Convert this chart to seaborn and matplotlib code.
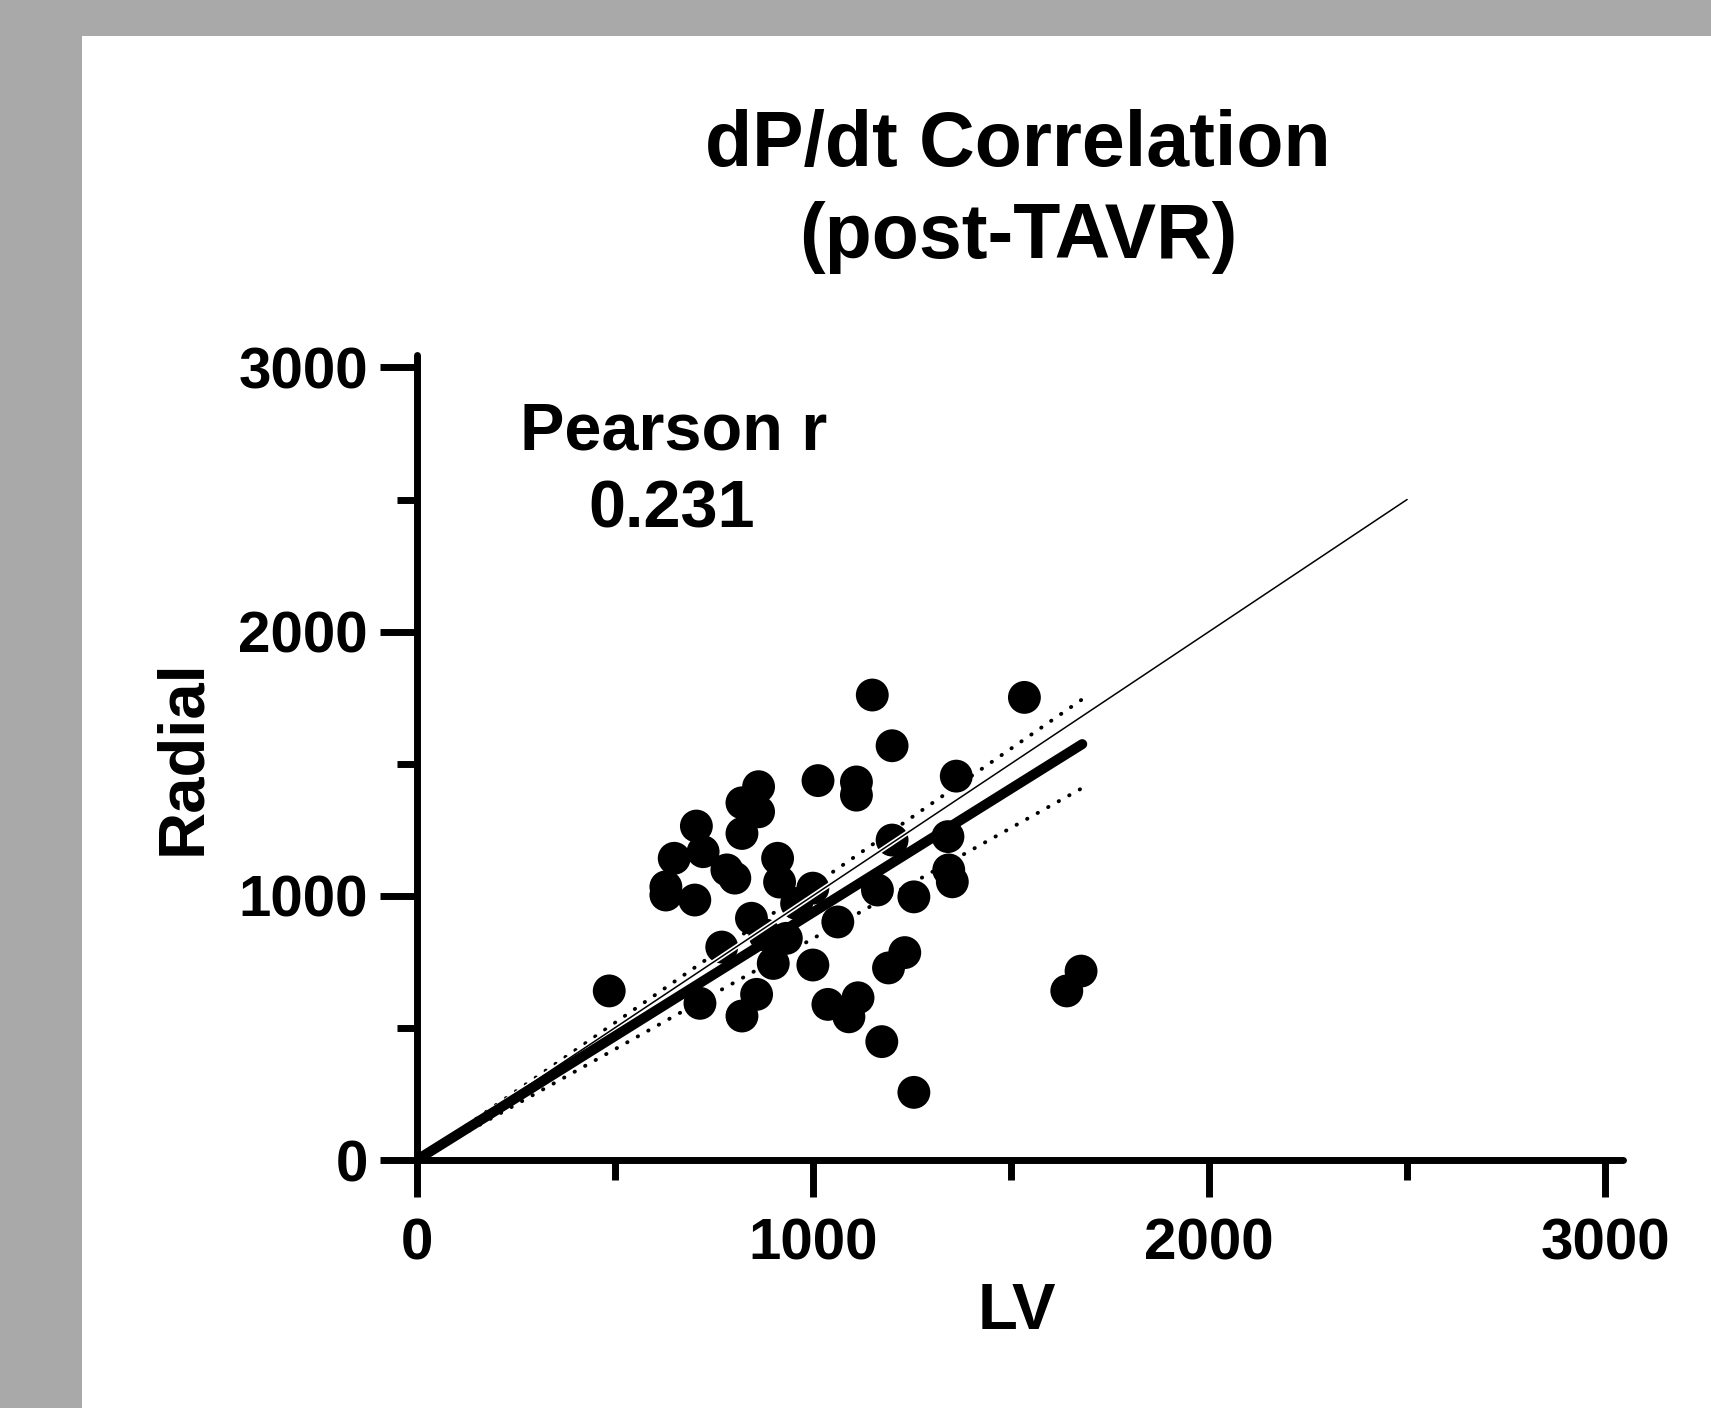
import seaborn as sns
import pandas as pd
import matplotlib.pyplot as plt
import matplotlib.patheffects as pe
from matplotlib.patches import Rectangle
from matplotlib.ticker import MultipleLocator
import numpy as np

# points (LV vs Radial dP/dt, post-TAVR)
lv = [1150, 1534, 1200, 1013, 1110, 1110, 1362, 863, 821, 863, 821, 706, 723, 650,
      783, 803, 629, 629, 702, 911, 916, 1000, 959, 1200, 1341, 1343, 1352, 1163,
      1255, 1063, 845, 770, 933, 900, 1000, 1232, 1191, 486, 715, 858, 821, 1038,
      1114, 1091, 1174, 1255, 1677, 1641, 879]
radial = [1760, 1751, 1568, 1436, 1431, 1381, 1453, 1413, 1352, 1318, 1236, 1264, 1167, 1142,
          1098, 1067, 1034, 1003, 984, 1142, 1052, 1029, 971, 1211, 1224, 1098, 1053, 1022,
          996, 901, 915, 806, 839, 744, 738, 785, 727, 640, 593, 627, 545, 589,
          614, 542, 448, 256, 715, 640, 852]

# fit through origin + 95% band, identity line
fit_slope = 0.937
band_slopes = [0.838, 1.038]
fit_x_end = 1680
identity_end = 2500
pearson_r = "0.231"

sns.set_theme(style="ticks")
plt.rcParams['font.family'] = ['Liberation Sans', 'DejaVu Sans']
plt.rcParams['font.weight'] = 'bold'
plt.rcParams['text.color'] = 'black'

df = pd.DataFrame({'LV': lv, 'Radial': radial})

fig = plt.figure(figsize=(17.11, 14.08), dpi=100, facecolor='#a9a9a9')
fig.patches.append(Rectangle((82/1711, 0), 1, (1408-36)/1408, transform=fig.transFigure,
                             facecolor='white', edgecolor='none', zorder=-10))
ax = fig.add_axes([416.7/1711, 1-1160/1408, (1623-416.7)/1711, (1160-355)/1408])
ax.set_facecolor('none')

sns.scatterplot(data=df, x='LV', y='Radial', ax=ax, color='black', s=560,
                edgecolor='none', zorder=2, legend=False)

fx = np.array([0, fit_x_end])
for b in band_slopes:
    ax.plot(fx, b*fx, color='black', lw=2.8, linestyle=(0, (0.1, 3.0)),
            dash_capstyle='round', zorder=3)
ax.plot([0, identity_end], [0, identity_end], color='black', lw=1.1, zorder=4,
        path_effects=[pe.Stroke(linewidth=3.5, foreground='white'), pe.Normal()])
ax.plot(fx, fit_slope*fx, color='black', lw=7.2, solid_capstyle='round', zorder=5)

ax.set_xlim(0, 3045)
ax.set_ylim(0, 3047)
ax.xaxis.set_major_locator(MultipleLocator(1000))
ax.xaxis.set_minor_locator(MultipleLocator(500))
ax.yaxis.set_major_locator(MultipleLocator(1000))
ax.yaxis.set_minor_locator(MultipleLocator(500))
sns.despine(ax=ax)
for s in ['left', 'bottom']:
    ax.spines[s].set_linewidth(5)
    ax.spines[s].set_color('black')
    ax.spines[s].set_capstyle('round')
ax.tick_params(which='major', length=26.6, width=5, color='black', labelsize=42,
               labelcolor='black')
ax.tick_params(which='minor', length=14.4, width=5, color='black')
ax.tick_params(axis='x', which='major', pad=15)
ax.tick_params(axis='y', which='major', pad=8.5)
for lab in ax.get_xticklabels() + ax.get_yticklabels():
    lab.set_fontweight('bold')
ax.set_xlabel('')
ax.set_ylabel('')

def px(x, y):
    return x/1711, 1 - y/1408

fig.text(*px(1018, 166), 'dP/dt Correlation', ha='center', va='baseline',
         fontsize=55.5, fontweight='bold', color='black')
fig.text(*px(1018, 258), '(post-TAVR)', ha='center', va='baseline',
         fontsize=55.5, fontweight='bold', color='black')
fig.text(*px(674, 450), 'Pearson r', ha='center', va='baseline',
         fontsize=48, fontweight='bold', color='black')
fig.text(*px(672, 527), pearson_r, ha='center', va='baseline',
         fontsize=48, fontweight='bold', color='black')
fig.text(*px(200, 757), 'Radial', ha='center', va='baseline', rotation=90,
         rotation_mode='anchor', fontsize=47, fontweight='bold', color='black')
fig.text(*px(1017, 1329), 'LV', ha='center', va='baseline',
         fontsize=47, fontweight='bold', color='black')

fig.savefig('out.png', dpi=100, facecolor=fig.get_facecolor())
